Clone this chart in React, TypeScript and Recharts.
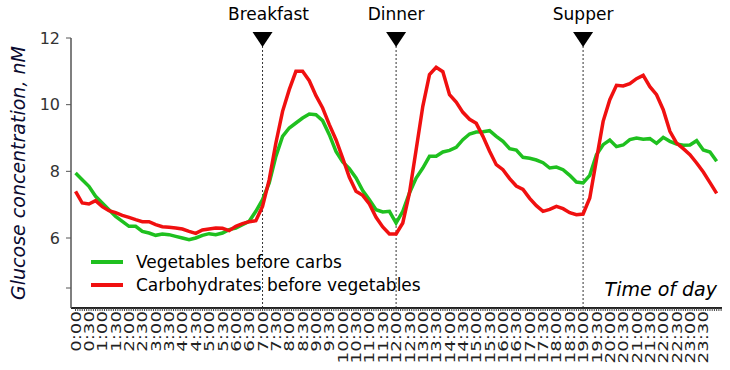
import React from "react";
import {
  LineChart,
  Line,
  XAxis,
  YAxis,
  ReferenceLine,
  Label,
} from "recharts";

// glucose readings every 15 min, 0:00 -> 24:00
const vegetables = [
  7.95, 7.75, 7.55, 7.25, 7.05, 6.85, 6.65, 6.5, 6.35, 6.35, 6.2, 6.15,
  6.08, 6.12, 6.1, 6.05, 6.0, 5.95, 6.0, 6.08, 6.13, 6.1, 6.15, 6.25,
  6.3, 6.4, 6.5, 6.8, 7.15, 7.65, 8.45, 9.05, 9.3, 9.45, 9.6, 9.72,
  9.7, 9.52, 9.1, 8.6, 8.28, 8.08, 7.8, 7.42, 7.15, 6.85, 6.78, 6.8,
  6.45, 6.8, 7.35, 7.8, 8.1, 8.45, 8.45, 8.58, 8.63, 8.72, 8.95, 9.12,
  9.18, 9.19, 9.22, 9.05, 8.9, 8.68, 8.64, 8.42, 8.39, 8.34, 8.26, 8.1,
  8.13, 8.05, 7.88, 7.68, 7.65, 7.88, 8.5, 8.8, 8.94, 8.74, 8.79, 8.95,
  9.0, 8.96, 8.98, 8.84, 9.02, 8.9, 8.82, 8.78, 8.79, 8.92, 8.64, 8.58,
  8.3,
];

const carbs = [
  7.4, 7.05, 7.02, 7.12, 6.94, 6.82, 6.76, 6.68, 6.62, 6.55, 6.49, 6.49,
  6.4, 6.34, 6.32, 6.3, 6.27, 6.2, 6.14, 6.24, 6.27, 6.3, 6.29, 6.22,
  6.35, 6.43, 6.49, 6.52, 6.95, 7.75, 8.85, 9.8, 10.45, 11.0, 11.0, 10.72,
  10.27, 9.9, 9.4, 8.95, 8.4, 7.82, 7.4, 7.28, 7.02, 6.62, 6.33, 6.12,
  6.12, 6.45, 7.35, 8.65, 9.95, 10.9, 11.12, 10.99, 10.3, 10.08, 9.77, 9.56,
  9.44, 9.05, 8.6, 8.2, 8.05, 7.78, 7.56, 7.46, 7.19, 6.97, 6.8, 6.86,
  6.95, 6.88, 6.76, 6.7, 6.72, 7.2, 8.35, 9.5, 10.15, 10.58, 10.56, 10.63,
  10.78, 10.88, 10.54, 10.3, 9.85, 9.2, 8.85, 8.68, 8.5, 8.25, 7.98, 7.66,
  7.34,
];

const timeLabels = [
  "0:00", "0:30", "1:00", "1:30", "2:00", "2:30", "3:00", "3:30",
  "4:00", "4:30", "5:00", "5:30", "6:00", "6:30", "7:00", "7:30",
  "8:00", "8:30", "9:00", "9:30", "10:00", "10:30", "11:00", "11:30",
  "12:00", "12:30", "13:00", "13:30", "14:00", "14:30", "15:00", "15:30",
  "16:00", "16:30", "17:00", "17:30", "18:00", "18:30", "19:00", "19:30",
  "20:00", "20:30", "21:00", "21:30", "22:00", "22:30", "23:00", "23:30",
];

const meals = [
  { time: 7, name: "Breakfast", dx: 6 },
  { time: 12, name: "Dinner", dx: 0 },
  { time: 19, name: "Supper", dx: 0 },
];

const series = [
  { key: "veg", name: "Vegetables before carbs", color: "#1fc01f" },
  { key: "carb", name: "Carbohydrates before vegetables", color: "#f01010" },
];

const yTicks = [4.5, 6, 8, 10, 12];

const data = vegetables.map((v, i) => ({ t: i / 4, veg: v, carb: carbs[i] }));

// small tick every 5 minutes
const minorTicks = Array.from({ length: 24 * 12 + 3 }, (_, i) => i / 12);

const FONT = "'DejaVu Sans', Verdana, sans-serif";

const TimeTick = (props: any) => {
  const { x, y, payload } = props;
  const k = Math.round(payload.value * 2);
  if (Math.abs(payload.value * 2 - k) > 1e-6 || k >= timeLabels.length) return <g />;
  return (
    <g transform={`translate(${x},${y})`}>
      <text
        transform="rotate(-90) scale(1.3,1)"
        textAnchor="end"
        dy="0.36em"
        fontSize={14}
        fontFamily={FONT}
        fill="#222"
      >
        {timeLabels[k]}
      </text>
    </g>
  );
};

const mealMarker = (name: string, dx: number) => (props: any) => {
  const vb = props.viewBox || {};
  const x = vb.x;
  return (
    <g>
      <polygon points={`${x - 10},32 ${x + 10},32 ${x},47`} fill="#000" />
      <text x={x + dx} y={20} textAnchor="middle" fontSize={17} fontFamily={FONT} fill="#000">
        {name}
      </text>
    </g>
  );
};

export default function App() {
  return (
    <div style={{ position: "absolute", left: 0, top: 0, width: 730, height: 370, background: "#fff" }}>
      <LineChart width={730} height={370} data={data} margin={{ top: 38, right: 8, left: 0, bottom: 0 }}>
        <XAxis
          dataKey="t"
          type="number"
          domain={[-0.17, 24.2]}
          allowDataOverflow
          ticks={minorTicks}
          interval={0}
          tick={<TimeTick />}
          tickSize={3}
          tickMargin={0}
          height={62}
          axisLine={{ stroke: "#222", strokeWidth: 2 }}
          tickLine={{ stroke: "#444" }}
        >
          <Label
            content={(p: any) => {
              const vb = p.viewBox;
              return (
                <text
                  x={vb.x + vb.width - 5}
                  y={vb.y - 12}
                  textAnchor="end"
                  fontSize={19}
                  fontStyle="italic"
                  fontFamily={FONT}
                  fill="#000"
                >
                  Time of day
                </text>
              );
            }}
          />
        </XAxis>
        <YAxis
          type="number"
          domain={[3.9, 12]}
          allowDataOverflow
          ticks={yTicks}
          tickFormatter={(v: number) => (v === 4.5 ? "" : String(v))}
          width={71}
          tickSize={5}
          tickMargin={6}
          tick={{ fontSize: 16, fill: "#333", fontFamily: FONT }}
          axisLine={{ stroke: "#555", strokeWidth: 1.5 }}
          tickLine={{ stroke: "#555" }}
        >
          <Label
            content={(p: any) => {
              const vb = p.viewBox;
              return (
                <text
                  transform={`translate(${vb.x + 18},${vb.y + vb.height / 2}) rotate(-90)`}
                  textAnchor="middle"
                  dominantBaseline="central"
                  fontSize={19}
                  fontStyle="italic"
                  fontFamily={FONT}
                  fill="#0a0a30"
                >
                  Glucose concentration, nM
                </text>
              );
            }}
          />
        </YAxis>
        {meals.map((m) => (
          <ReferenceLine
            key={m.name}
            x={m.time}
            stroke="#333"
            strokeDasharray="2 2"
            label={mealMarker(m.name, m.dx)}
          />
        ))}
        {series.map((s) => (
          <Line
            key={s.key}
            type="linear"
            dataKey={s.key}
            name={s.name}
            stroke={s.color}
            strokeWidth={3.5}
            dot={false}
            isAnimationActive={false}
          />
        ))}
      </LineChart>

      {/* legend sits inside the plot, lower left */}
      <div
        style={{
          position: "absolute",
          left: 91,
          top: 250,
          fontFamily: FONT,
          fontSize: 17,
          color: "#000",
        }}
      >
        {series.map((s) => (
          <div key={s.key} style={{ display: "flex", alignItems: "center", height: 23 }}>
            <span
              style={{ display: "inline-block", width: 32, height: 4, background: s.color, marginRight: 13 }}
            />
            <span>{s.name}</span>
          </div>
        ))}
      </div>
    </div>
  );
}
